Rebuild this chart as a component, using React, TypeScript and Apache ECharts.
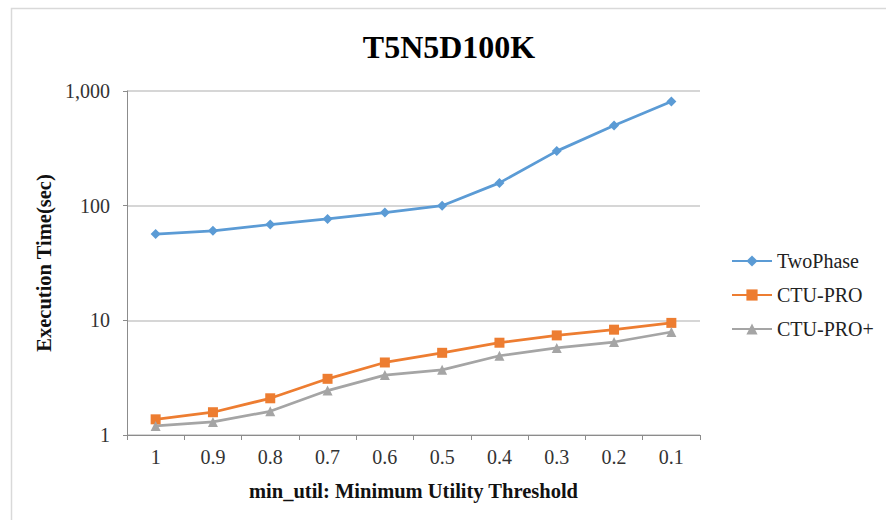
import React, { useEffect, useRef } from "react";
import * as echarts from "echarts";

const categories = ["1", "0.9", "0.8", "0.7", "0.6", "0.5", "0.4", "0.3", "0.2", "0.1"];
const twoPhase = [56.6, 60.4, 68.5, 76.7, 87, 100, 158, 299, 501, 809];
const ctuPro = [1.37, 1.58, 2.09, 3.09, 4.29, 5.21, 6.38, 7.39, 8.29, 9.5];
const ctuProPlus = [1.2, 1.3, 1.61, 2.44, 3.33, 3.7, 4.91, 5.74, 6.47, 7.91];

const FONT = "'Liberation Serif', 'Times New Roman', serif";

export default function App() {
  const ref = useRef<HTMLDivElement>(null);
  useEffect(() => {
    document.body.style.margin = "0";
    if (!ref.current) return;
    const chart = echarts.init(ref.current, null, { renderer: "svg" });
    const mk = (name: string, data: number[], color: string, symbol: string, size: number) => ({
      name,
      type: "line",
      data,
      symbol,
      symbolSize: size,
      itemStyle: { color },
      lineStyle: { color, width: 2.75 },
      z: 3,
    });
    chart.setOption({
      animation: false,
      backgroundColor: "#ffffff",
      textStyle: { fontFamily: FONT },
      title: {
        text: "T5N5D100K",
        left: 444,
        top: 26,
        textAlign: "center",
        textStyle: { fontFamily: FONT, fontSize: 32, fontWeight: "bold", color: "#000" },
      },
      graphic: [
        {
          type: "rect",
          shape: { x: 11.5, y: 8.5, width: 900, height: 530 },
          style: { fill: "none", stroke: "#d9d9d9", lineWidth: 1.5 },
          silent: true,
        },
      ],
      legend: {
        orient: "vertical",
        left: 731,
        top: 251,
        padding: 0,
        itemWidth: 40,
        itemHeight: 14,
        itemGap: 14,
        textStyle: { fontFamily: FONT, fontSize: 20, color: "#222" },
        data: ["TwoPhase", "CTU-PRO", "CTU-PRO+"],
      },
      grid: { left: 127, right: 186, top: 91, bottom: 85 },
      xAxis: {
        type: "category",
        data: categories,
        boundaryGap: true,
        name: "min_util: Minimum Utility Threshold",
        nameLocation: "middle",
        nameGap: 45,
        nameTextStyle: { fontFamily: FONT, fontSize: 20.5, fontWeight: "bold", color: "#111" },
        axisLine: { lineStyle: { color: "#8c8c8c", width: 1 } },
        axisTick: { show: true, length: 5, lineStyle: { color: "#8c8c8c" } },
        axisLabel: { fontFamily: FONT, fontSize: 20, color: "#333", margin: 12 },
        splitLine: { show: false },
      },
      yAxis: {
        type: "log",
        logBase: 10,
        min: 1,
        max: 1000,
        name: "Execution Time(sec)",
        nameLocation: "middle",
        nameGap: 63,
        nameRotate: 90,
        nameTextStyle: { fontFamily: FONT, fontSize: 20.5, fontWeight: "bold", color: "#111" },
        axisLine: { show: true, lineStyle: { color: "#8c8c8c", width: 1 } },
        axisTick: { show: true, length: 4, lineStyle: { color: "#8c8c8c" } },
        minorTick: { show: false },
        axisLabel: {
          fontFamily: FONT,
          fontSize: 20,
          color: "#333",
          margin: 17,
          formatter: (v: number) => Math.round(v).toLocaleString("en-US"),
        },
        splitLine: { show: true, lineStyle: { color: "#c8c8c8", width: 1.5 } },
      },
      series: [
        mk("TwoPhase", twoPhase, "#5b9bd5", "diamond", 10),
        mk("CTU-PRO", ctuPro, "#ed7d31", "rect", 10),
        mk("CTU-PRO+", ctuProPlus, "#a5a5a5", "triangle", 10),
      ],
    });
    return () => chart.dispose();
  }, []);
  return <div ref={ref} style={{ width: 886, height: 520 }} />;
}
